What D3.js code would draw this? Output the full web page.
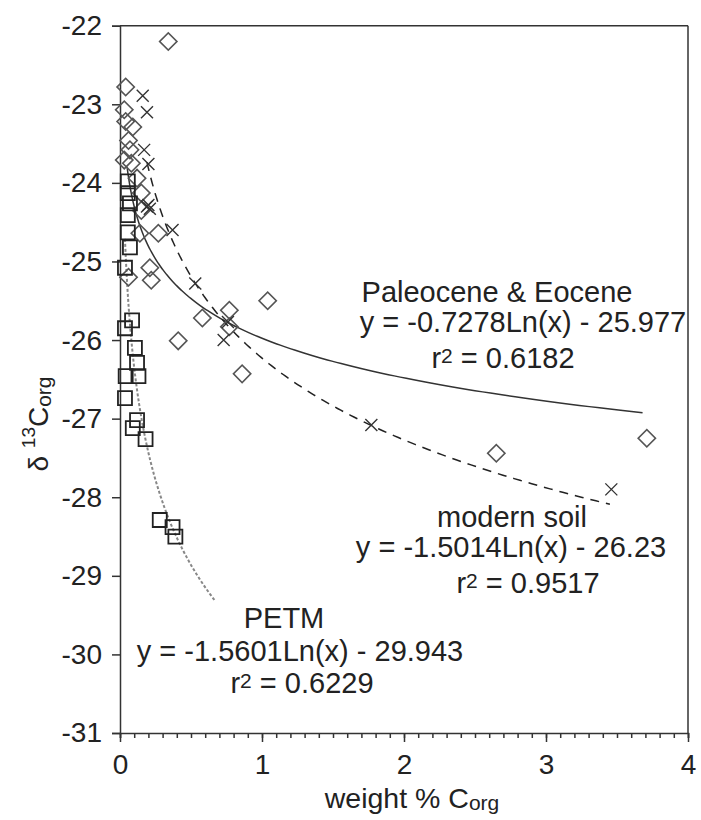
<!DOCTYPE html>
<html>
<head>
<meta charset="utf-8">
<script src="https://cdn.jsdelivr.net/npm/d3@7"></script>
<style>
  body { margin: 0; background: #fff; }
  svg text { font-family: "Liberation Sans", Arial, sans-serif; fill: #222; }
</style>
</head>
<body>
<div id="chart"></div>
<script>
// Paleocene & Eocene samples (diamonds)
const paleoData = [
    [0.34, -22.2], [0.04, -22.78], [0.03, -23.07], [0.04, -23.22], [0.09, -23.29],
    [0.06, -23.46], [0.07, -23.58], [0.03, -23.71], [0.08, -23.75], [0.12, -23.94],
    [0.15, -24.13], [0.15, -24.35], [0.14, -24.64], [0.27, -24.64], [0.06, -25.2],
    [0.21, -25.08], [0.22, -25.24], [0.58, -25.72], [0.77, -25.62], [0.77, -25.83],
    [0.41, -26.01], [1.04, -25.5], [0.86, -26.43], [2.65, -27.44], [3.71, -27.25]
];

// modern soil samples (crosses)
const soilData = [
    [0.16, -22.89], [0.19, -23.1], [0.17, -23.58], [0.2, -23.76], [0.2, -24.28],
    [0.21, -24.33], [0.19, -24.3], [0.37, -24.6], [0.53, -25.28], [0.76, -25.77],
    [0.73, -26.0], [1.77, -27.08], [3.46, -27.9]
];

// PETM samples (squares)
const petmData = [
    [0.055, -23.98], [0.055, -24.13], [0.07, -24.26], [0.055, -24.41], [0.055, -24.63],
    [0.07, -24.82], [0.035, -25.08], [0.085, -25.75], [0.035, -25.85], [0.105, -26.1],
    [0.12, -26.29], [0.04, -26.46], [0.13, -26.46], [0.035, -26.74], [0.12, -27.02],
    [0.09, -27.12], [0.18, -27.26], [0.28, -28.29], [0.37, -28.38], [0.39, -28.5]
];

// log trendlines: [slope, intercept, xmin, xmax]
const paleoFit = [-0.7278, -25.977, 0.05, 3.68];
const soilFit = [-1.5014, -26.23, 0.19, 3.45];
const petmFit = [-1.5601, -29.943, 0.035, 0.67];

const xTicks = [0, 1, 2, 3, 4];
const yTicks = [-31, -30, -29, -28, -27, -26, -25, -24, -23, -22];

const width = 701, height = 820;

const x = d3.scaleLinear().domain([0, 4]).range([120, 688]);
const y = d3.scaleLinear().domain([-31, -22]).range([733, 25.7]);

const svg = d3.select("#chart").append("svg")
    .attr("width", width)
    .attr("height", height);

// frame
svg.append("line")
    .attr("x1", x(0)).attr("x2", x(4))
    .attr("y1", y(-22)).attr("y2", y(-22))
    .attr("stroke", "#333").attr("stroke-width", 1.5);
svg.append("line")
    .attr("x1", x(4)).attr("x2", x(4))
    .attr("y1", y(-22)).attr("y2", y(-31))
    .attr("stroke", "#333").attr("stroke-width", 1.5);

// x axis: minor ticks every 0.1, major at integers
const xAxisG = svg.append("g").attr("transform", `translate(0,${y(-31)})`);
xAxisG.call(d3.axisBottom(x).tickValues(d3.range(0, 4.01, 0.1)).tickSize(5).tickFormat(""));
const xMajor = svg.append("g").attr("transform", `translate(0,${y(-31)})`)
    .call(d3.axisBottom(x).tickValues(xTicks).tickSize(9).tickPadding(12).tickFormat(d3.format("d")));
xMajor.selectAll("text").attr("font-size", 28).style("font-family", '"Liberation Sans", Arial, sans-serif');

const yAxisG = svg.append("g").attr("transform", `translate(${x(0)},0)`)
    .call(d3.axisLeft(y).tickValues(yTicks).tickSize(8).tickPadding(10).tickFormat(d => d3.format("d")(d).replace("−", "-")));
yAxisG.selectAll("text").attr("font-size", 28).style("font-family", '"Liberation Sans", Arial, sans-serif');

svg.selectAll(".domain, .tick line").attr("stroke", "#333").attr("stroke-width", 1.5);
xMajor.select(".domain").remove();

// trendlines
function fitPoints(fit) {
    const steps = 200;
    return d3.range(steps + 1).map(i => {
        const xv = fit[2] * Math.pow(fit[3] / fit[2], i / steps);
        return [xv, fit[0] * Math.log(xv) + fit[1]];
    });
}
const line = d3.line().x(d => x(d[0])).y(d => y(d[1]));

svg.append("path")
    .attr("d", line(fitPoints(petmFit)))
    .attr("fill", "none").attr("stroke", "#888")
    .attr("stroke-width", 2).attr("stroke-dasharray", "3,2");

svg.append("path")
    .attr("d", line(fitPoints(paleoFit)))
    .attr("fill", "none").attr("stroke", "#333").attr("stroke-width", 1.5);

svg.append("path")
    .attr("d", line(fitPoints(soilFit)))
    .attr("fill", "none").attr("stroke", "#222")
    .attr("stroke-width", 1.5).attr("stroke-dasharray", "9,7");

// markers
svg.append("g").selectAll("path")
    .data(paleoData)
    .join("path")
    .attr("transform", d => `translate(${x(d[0])},${y(d[1])}) rotate(45)`)
    .attr("d", d3.symbol(d3.symbolSquare, 150))
    .attr("fill", "none").attr("stroke", "#555").attr("stroke-width", 1.6);

svg.append("g").selectAll("path")
    .data(petmData)
    .join("path")
    .attr("transform", d => `translate(${x(d[0])},${y(d[1])})`)
    .attr("d", d3.symbol(d3.symbolSquare, 196))
    .attr("fill", "none").attr("stroke", "#222").attr("stroke-width", 1.8);

svg.append("g").selectAll("path")
    .data(soilData)
    .join("path")
    .attr("transform", d => `translate(${x(d[0])},${y(d[1])})`)
    .attr("d", "M-6,-6L6,6M-6,6L6,-6")
    .attr("fill", "none").attr("stroke", "#333").attr("stroke-width", 1.4);

// equation labels
const labels = [
    { t: "Paleocene & Eocene", cx: 497, by: 302 },
    { t: "y = -0.7278Ln(x) - 25.977", cx: 523, by: 332 },
    { t: "r", sup: "2", rest: " = 0.6182", cx: 503, by: 368 },
    { t: "modern soil", cx: 512, by: 527 },
    { t: "y = -1.5014Ln(x) - 26.23", cx: 511, by: 557 },
    { t: "r", sup: "2", rest: " = 0.9517", cx: 528, by: 593 },
    { t: "PETM", cx: 284, by: 628 },
    { t: "y = -1.5601Ln(x) - 29.943", cx: 300, by: 661 },
    { t: "r", sup: "2", rest: " = 0.6229", cx: 302, by: 693 }
];
labels.forEach(l => {
    const t = svg.append("text")
        .attr("x", l.cx).attr("y", l.by)
        .attr("text-anchor", "middle")
        .attr("font-size", 29);
    t.append("tspan").text(l.t);
    if (l.sup) {
        t.append("tspan").attr("dy", -5).attr("font-size", 21).text(l.sup);
        t.append("tspan").attr("dy", 5).text(l.rest);
    }
});

// axis titles
const xt = svg.append("text")
    .attr("x", 412).attr("y", 808)
    .attr("text-anchor", "middle")
    .attr("font-size", 28.5);
xt.append("tspan").text("weight % C");
xt.append("tspan").attr("dy", 2).attr("font-size", 21).text("org");

const yt = svg.append("text")
    .attr("transform", "translate(48,424) rotate(-90)")
    .attr("text-anchor", "middle")
    .attr("font-size", 28);
yt.append("tspan").text("δ ");
yt.append("tspan").attr("dy", -13).attr("font-size", 19).text("13");
yt.append("tspan").attr("dy", 13).text("C");
yt.append("tspan").attr("dy", 3).attr("font-size", 21).text("org");
</script>
</body>
</html>
